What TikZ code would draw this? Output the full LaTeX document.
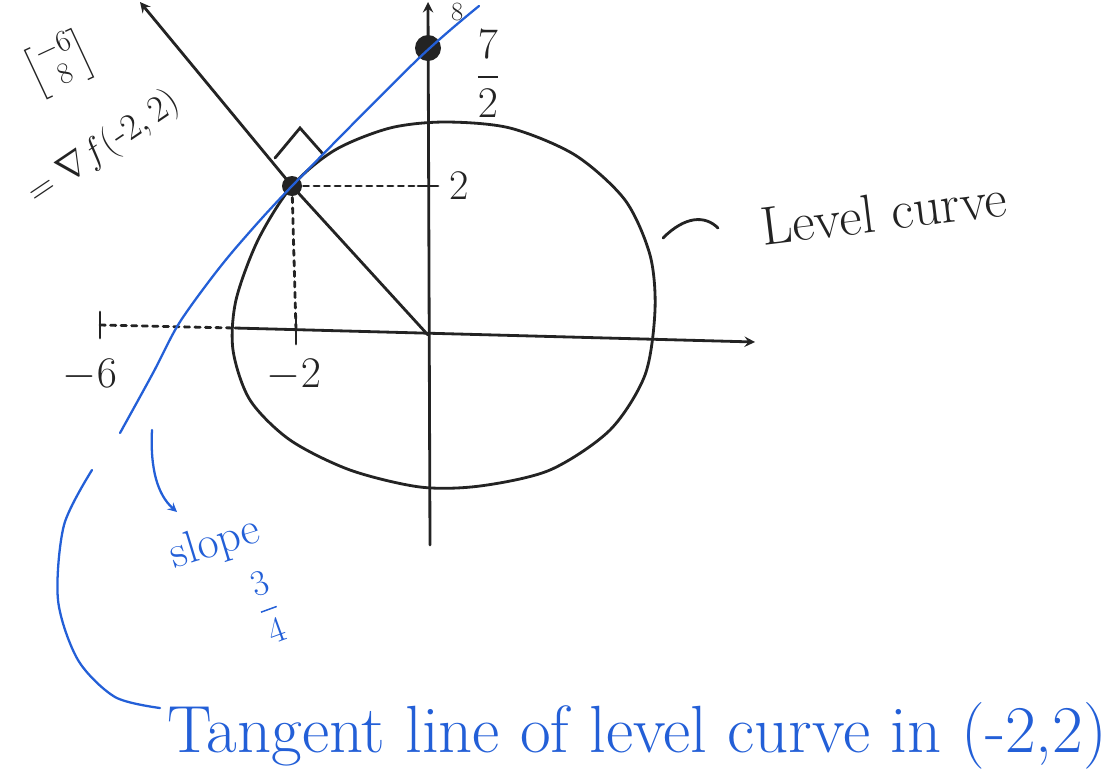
\documentclass[tikz,border=0pt]{standalone}
\usepackage{amsmath}
\usepackage{fontspec}
\usetikzlibrary{positioning}
\definecolor{inkblue}{RGB}{35,95,215}
\definecolor{inkblack}{RGB}{35,35,35}
\newcommand{\hand}[1]{\fontsize{#1}{#1}\selectfont}

\begin{document}
\begin{tikzpicture}[x=0.02cm, y=-0.02cm, >=stealth, line width=1.6pt, line cap=round, inkblack]
    \useasboundingbox (0,0) rectangle (1112,779);

    % Axes through the origin
    \coordinate (o) at (428,335);
    \coordinate (xl) at (100,325);
    \coordinate (xc) at (235,328);
    \coordinate (xr) at (755,342);
    \coordinate (yb) at (430,545);
    \coordinate (yt) at (428,2);
    \draw[dashed] (xl) -- (xc);
    \draw[->] (xc) -- (xr);
    \draw[->] (yb) -- (yt);

    % Point (-2,2) and intercept 7/2
    \node[circle, fill, inner sep=0pt, minimum size=0.4cm] (p) at (292,186) {};
    \node[circle, fill, inner sep=0pt, minimum size=0.52cm] (q) at (428,48) {};

    % Ticks and dashed guides
    \coordinate (t2) at (428,186);
    \coordinate (tm2) at (296,330);
    \coordinate (tm6) at (100,325);
    \draw ([xshift=-0.2cm]t2) -- ([xshift=0.2cm]t2);
    \draw ([yshift=-0.28cm]tm2) -- ([yshift=0.28cm]tm2);
    \draw ([yshift=-0.26cm]tm6) -- ([yshift=0.26cm]tm6);
    \draw[dashed] (p) -- (t2);
    \draw[dashed] (p) -- (tm2);

    % Gradient direction
    \coordinate (gt) at (140,2);
    \draw[->] (o) -- (p.center) -- (gt);
    \draw (275,158) -- (300,128) -- (323,154);

    % Level curve
    \draw plot[smooth cycle] coordinates {(292,186) (335,150) (390,128) (445,122) (510,128) (575,155) (625,200) (650,255) (655,310) (645,375) (610,430) (550,470) (480,486) (420,487) (350,470) (290,440) (250,400) (233,350) (236,300) (258,240)};

    % Tangent line
    \draw[inkblue, line width=1.3pt] plot[smooth] coordinates {(120,433) (153,373) (178,325) (210,280) (240,243) (292,186) (417,60) (479,6)};

    % Labels on the axes
    \node[right, inner sep=1pt] (l8) at (448,12) {\hand{15}8};
    \node (l72) at (488,74) {\hand{24}$\dfrac{7}{2}$};
    \node[right, inner sep=1pt] (l2) at (446,186) {\hand{24}2};
    \node (lm6) at (90,375) {\hand{24}$-6$};
    \node (lm2) at (294,375) {\hand{24}$-2$};

    % Gradient vector
    \node[rotate=25, inner sep=1pt] (grad) at (60,64) {\hand{17}$\begin{bmatrix}-6\\8\end{bmatrix}$};
    \node[rotate=34, inner sep=1pt] (gradf) at (104,148) {\hand{22}$=\nabla f(\text{-}2,2)$};

    % Level curve label
    \node[rotate=7] (lc) at (884,212) {\hand{31}Level curve};
    \draw (663,238) .. controls (685,216) and (705,215) .. (718,228);

    % Blue notes
    \node[inkblue, rotate=17] (sl) at (215,544) {\hand{26}slope};
    \node[inkblue, rotate=20] (sf) at (268,607) {\hand{22}$\dfrac{3}{4}$};
    \coordinate (sa) at (152,430);
    \coordinate (sb) at (177,512);
    \draw[->, inkblue, line width=1.3pt] (sa) .. controls (150,470) and (158,495) .. (sb);
    \node[inkblue, anchor=base west] (tl) at (160,752) {\hand{38}Tangent line of level curve in (-2,2)};
    \draw[inkblue, line width=1.3pt] plot[smooth] coordinates {(92,470) (64,525) (58,600) (78,660) (115,697) (160,708)};
\end{tikzpicture}
\end{document}
